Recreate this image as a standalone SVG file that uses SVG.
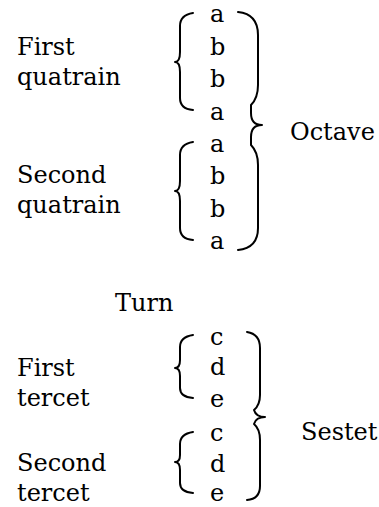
<svg xmlns="http://www.w3.org/2000/svg" width="379" height="507" viewBox="0 0 379 507">
<style>
text{font-family:"DejaVu Serif","Liberation Serif",serif;font-size:24px;fill:#000}
.b{fill:none;stroke:#000;stroke-width:2;stroke-linejoin:round;stroke-linecap:round}
</style>
<rect width="379" height="507" fill="#fff"/>
<g id="labels">
<text x="17" y="55">First</text>
<text x="17" y="85">quatrain</text>
<text x="17" y="183">Second</text>
<text x="17" y="213">quatrain</text>
<text x="115" y="311">Turn</text>
<text x="17" y="376">First</text>
<text x="17" y="406">tercet</text>
<text x="17" y="471">Second</text>
<text x="17" y="501">tercet</text>
<text x="290" y="140">Octave</text>
<text x="301" y="440">Sestet</text>
</g>
<g id="rhymes">
<text x="210" y="22">a</text>
<text x="210" y="55">b</text>
<text x="210" y="87">b</text>
<text x="210" y="120">a</text>
<text x="210" y="152">a</text>
<text x="210" y="184">b</text>
<text x="210" y="217">b</text>
<text x="210" y="249">a</text>
<text x="210" y="345">c</text>
<text x="210" y="375">d</text>
<text x="210" y="407">e</text>
<text x="210" y="441">c</text>
<text x="210" y="472">d</text>
<text x="210" y="501">e</text>
</g>
<g id="connectors">
<path class="b" d="M193,13 Q180,15 180,26 L180,52 Q180,62 175,62 Q180,62 180,72 L180,98 Q180,109 193,110"/>
<path class="b" d="M193,142 Q180,144 180,155 L180,181 Q180,191 175,191 Q180,191 180,201 L180,228 Q180,239 193,240"/>
<path class="b" d="M238,12 Q258,14 258,35 L258,85 Q258,98 251,105 L251,113 Q251,125 262,125 Q251,125 251,137 L251,145 Q258,152 258,165 L258,228 Q258,248 238,250"/>
<path class="b" d="M193,335 Q180,337 180,347 L180,360 Q180,368 175,368 Q180,368 180,376 L180,388 Q180,397 193,398"/>
<path class="b" d="M193,432 Q180,434 180,444 L180,455 Q180,462 175,462 Q180,462 180,470 L180,483 Q180,492 193,493"/>
<path class="b" d="M247,332 Q260,334 260,348 L260,395 Q260,405 254,410 Q256,417 265,417 Q256,417 254,424 Q260,429 260,440 L260,486 Q260,499 247,500"/>
</g>
</svg>
